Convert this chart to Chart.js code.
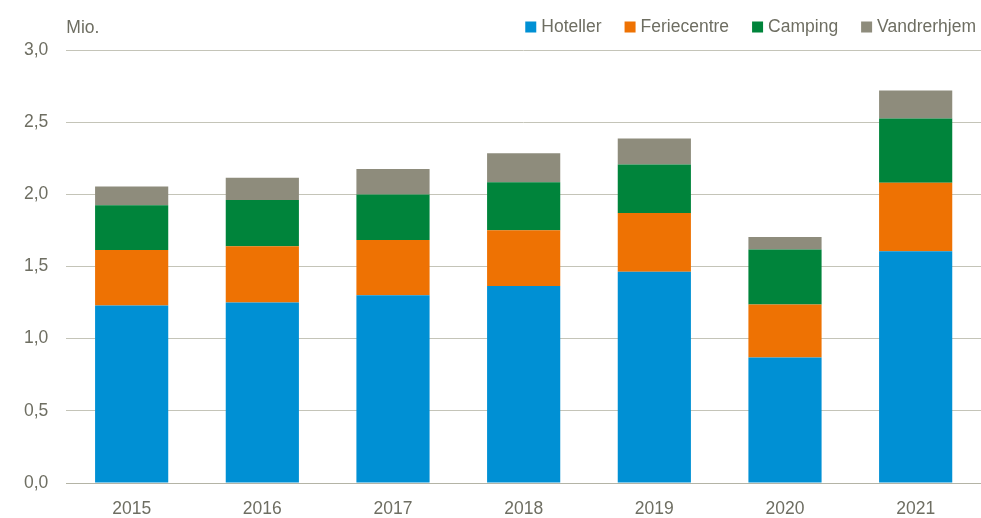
<!DOCTYPE html>
<html>
<head>
<meta charset="utf-8">
<script src="https://cdn.jsdelivr.net/npm/chart.js@4"></script>
<style>
html,body{margin:0;padding:0;background:#fff;}
#wrap{width:981px;height:518px;position:relative;}
</style>
</head>
<body>
<div id="wrap"><canvas id="c" width="981" height="518"></canvas></div>
<script>
const categories = ['2015','2016','2017','2018','2019','2020','2021'];
const hoteller    = [1.23, 1.25, 1.30, 1.365, 1.464, 0.87, 1.605];
const feriecentre = [0.385, 0.39, 0.384, 0.386, 0.407, 0.366, 0.476];
const camping     = [0.31, 0.32, 0.314, 0.332, 0.335, 0.381, 0.444];
const vandrerhjem = [0.13, 0.155, 0.178, 0.201, 0.18, 0.088, 0.194];
const seriesNames = ['Hoteller','Feriecentre','Camping','Vandrerhjem'];
const yTicks = [0, 0.5, 1.0, 1.5, 2.0, 2.5, 3.0];
const unitLabel = 'Mio.';

const colors = ['#0090D4','#EE7203','#00843B','#8E8C7C'];
const textColor = '#6E6E62';
const FONT = '"Liberation Sans", Arial, sans-serif';
const FSIZE = 17.5;

const decorPlugin = {
  id: 'decor',
  afterDraw(chart) {
    const {ctx, chartArea} = chart;
    ctx.save();
    ctx.font = FSIZE + 'px ' + FONT;
    ctx.fillStyle = textColor;
    ctx.textBaseline = 'middle';
    // unit label
    ctx.textAlign = 'left';
    ctx.fillText(unitLabel, chartArea.left, 28);
    // legend (right aligned)
    const box = 11, gapText = 5, gapItem = 23;
    const items = chart.data.datasets.map(ds => ({
      text: ds.label, color: ds.backgroundColor, w: ctx.measureText(ds.label).width
    }));
    let total = 0;
    items.forEach((it, i) => { total += box + gapText + it.w + (i < items.length - 1 ? gapItem : 0); });
    let x = 976 - total;
    const cy = 27;
    items.forEach(it => {
      ctx.fillStyle = it.color;
      ctx.fillRect(x, cy - box / 2, box, box);
      x += box + gapText;
      ctx.fillStyle = textColor;
      ctx.fillText(it.text, x, cy);
      x += it.w + gapItem;
    });
    ctx.restore();
  }
};

new Chart(document.getElementById('c'), {
  type: 'bar',
  data: {
    labels: categories,
    datasets: [hoteller, feriecentre, camping, vandrerhjem].map((d, i) => ({
      label: seriesNames[i],
      data: d,
      backgroundColor: colors[i],
      borderWidth: 0,
      barPercentage: 0.56,
      categoryPercentage: 1.0
    }))
  },
  options: {
    responsive: false,
    animation: false,
    layout: { padding: { left: 6, right: 0, top: 50, bottom: 0 } },
    plugins: {
      legend: { display: false },
      tooltip: { enabled: false }
    },
    scales: {
      x: {
        stacked: true,
        grid: { display: false },
        border: { display: true, color: '#B4B4A6', width: 1 },
        ticks: { color: textColor, font: { family: FONT, size: FSIZE }, padding: 8 },
        afterFit(scale) { scale.height = 35; }
      },
      y: {
        stacked: true,
        min: 0,
        max: 3,
        afterBuildTicks(scale) { scale.ticks = yTicks.map(v => ({ value: v })); },
        grid: { color: '#C4C4B8', lineWidth: 1, drawTicks: false },
        border: { display: false },
        ticks: {
          color: textColor,
          font: { family: FONT, size: FSIZE },
          padding: 18,
          callback: v => v.toFixed(1).replace('.', ',')
        }
      }
    }
  },
  plugins: [decorPlugin]
});
</script>
</body>
</html>
